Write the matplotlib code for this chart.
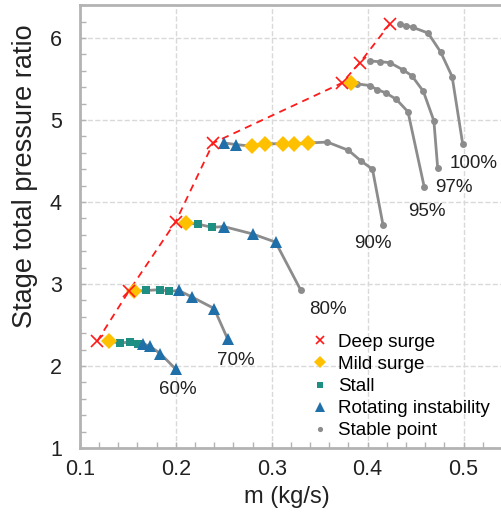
import matplotlib
matplotlib.use("Agg")
import matplotlib.pyplot as plt
from matplotlib.ticker import MultipleLocator
import numpy as np

plt.rcParams['font.family'] = ['Liberation Sans', 'DejaVu Sans']

# state codes: D deep surge, M mild surge, S stall, R rotating instability, P stable point
m_60 = [0.118, 0.130, 0.142, 0.152, 0.161, 0.166, 0.173, 0.184, 0.200]
p_60 = [2.30, 2.30, 2.28, 2.29, 2.27, 2.27, 2.24, 2.15, 1.96]
s_60 = ['D', 'M', 'S', 'S', 'S', 'R', 'R', 'R', 'R']

m_70 = [0.151, 0.156, 0.169, 0.184, 0.193, 0.203, 0.217, 0.240, 0.254]
p_70 = [2.91, 2.91, 2.92, 2.93, 2.91, 2.92, 2.84, 2.70, 2.33]
s_70 = ['D', 'M', 'S', 'S', 'S', 'R', 'R', 'R', 'R']

m_80 = [0.200, 0.211, 0.223, 0.238, 0.250, 0.280, 0.304, 0.330]
p_80 = [3.76, 3.74, 3.73, 3.69, 3.70, 3.61, 3.51, 2.93]
s_80 = ['D', 'M', 'S', 'S', 'R', 'R', 'R', 'P']

m_90 = [0.239, 0.250, 0.263, 0.279, 0.293, 0.312, 0.323, 0.338,
        0.358, 0.380, 0.393, 0.405, 0.416]
p_90 = [4.72, 4.72, 4.70, 4.68, 4.71, 4.71, 4.71, 4.72,
        4.73, 4.63, 4.50, 4.40, 3.72]
s_90 = ['D', 'R', 'R', 'M', 'M', 'M', 'M', 'M', 'P', 'P', 'P', 'P', 'P']

m_95 = [0.373, 0.383, 0.389, 0.402, 0.410, 0.419, 0.430, 0.442, 0.459]
p_95 = [5.45, 5.45, 5.44, 5.42, 5.37, 5.33, 5.25, 5.10, 4.18]
s_95 = ['D', 'M', 'P', 'P', 'P', 'P', 'P', 'P', 'P']

m_97 = [0.392, 0.402, 0.413, 0.423, 0.437, 0.446, 0.458, 0.469, 0.473]
p_97 = [5.70, 5.72, 5.71, 5.70, 5.61, 5.54, 5.35, 4.99, 4.41]
s_97 = ['D', 'P', 'P', 'P', 'P', 'P', 'P', 'P', 'P']

m_100 = [0.423, 0.434, 0.440, 0.447, 0.463, 0.476, 0.488, 0.499]
p_100 = [6.17, 6.17, 6.15, 6.13, 6.06, 5.83, 5.53, 4.71]
s_100 = ['D', 'P', 'P', 'P', 'P', 'P', 'P', 'P']

speeds = ['60%', '70%', '80%', '90%', '95%', '97%', '100%']
label_m = [0.202, 0.263, 0.359, 0.405, 0.462, 0.490, 0.510]
label_p = [1.71, 2.06, 2.69, 3.49, 3.88, 4.18, 4.47]

lines = [(m_60, p_60, s_60), (m_70, p_70, s_70), (m_80, p_80, s_80),
         (m_90, p_90, s_90), (m_95, p_95, s_95), (m_97, p_97, s_97),
         (m_100, p_100, s_100)]

estilos = {
    'D': dict(marker='x', color='#ff1a1a', ms=8.5, mew=1.2, label='Deep surge'),
    'M': dict(marker='D', color='#ffc000', ms=8, mew=0, label='Mild surge'),
    'S': dict(marker='s', color='#1f8f84', ms=6, mew=0, label='Stall'),
    'R': dict(marker='^', color='#1f6fa8', ms=9, mew=0, label='Rotating instability'),
    'P': dict(marker='o', color='#8c8c8c', ms=5, mew=0, label='Stable point'),
}

fig = plt.figure(figsize=(5.02, 5.19), dpi=100)
ax = fig.add_axes([0.159, 0.137, 0.841, 0.853])

gris = '#8c8c8c'

# linea de surge profundo
surge_m = [l[0][0] for l in lines]
surge_p = [l[1][0] for l in lines]
ax.plot(surge_m, surge_p, '--', color='#ff1a1a', lw=1.3, dashes=(4, 3), zorder=2)

for m, p, s in lines:
    m = np.array(m)
    p = np.array(p)
    s = np.array(s)
    ax.plot(m[1:], p[1:], '-', color=gris, lw=2, zorder=1)
    for k in ['P', 'S', 'R', 'M', 'D']:
        sel = s == k
        if sel.any():
            st = estilos[k]
            ax.plot(m[sel], p[sel], linestyle='none', marker=st['marker'],
                    color=st['color'], ms=st['ms'], mew=st['mew'], zorder=3)

for txt, x, y in zip(speeds, label_m, label_p):
    ax.text(x, y, txt, fontsize=13.5, ha='center', va='center', color='#222222')

# leyenda
for k in ['D', 'M', 'S', 'R', 'P']:
    st = estilos[k]
    ax.plot([], [], linestyle='none', marker=st['marker'], color=st['color'],
            ms=st['ms'] * 0.75, mew=st['mew'], label=st['label'])
ax.legend(loc='upper left', bbox_to_anchor=(0.546, 0.258), frameon=False,
          fontsize=13.6, handlelength=1.0, handletextpad=0.46, labelspacing=0.26,
          borderpad=0, borderaxespad=0)

ax.set_xlim(0.1, 0.54)
ax.set_ylim(1, 6.4)
ax.xaxis.set_major_locator(MultipleLocator(0.1))
ax.xaxis.set_minor_locator(MultipleLocator(0.02))
ax.yaxis.set_major_locator(MultipleLocator(1))
ax.yaxis.set_minor_locator(MultipleLocator(0.2))
ax.set_xticks([0.1, 0.2, 0.3, 0.4, 0.5])
ax.set_xticklabels(['0.1', '0.2', '0.3', '0.4', '0.5'])

ax.grid(True, which='major', linestyle='--', color='#d9d9d9', lw=1)
ax.set_axisbelow(True)

for lado in ['left', 'bottom', 'top']:
    ax.spines[lado].set_color('#b3b3b3')
    ax.spines[lado].set_linewidth(2)
ax.spines['right'].set_visible(False)

ax.tick_params(which='both', direction='in', color='#b3b3b3', labelsize=15.5,
               labelcolor='#222222', top=False, right=False)
ax.tick_params(which='major', length=4, width=1)
ax.tick_params(which='minor', length=4, width=1)
ax.tick_params(axis='x', which='major', pad=8)
ax.tick_params(axis='y', which='major', pad=13)

ax.set_xlabel('m (kg/s)', fontsize=17, color='#222222', labelpad=3)
ax.set_ylabel('Stage total pressure ratio', fontsize=19.5, color='#222222')
ax.yaxis.set_label_coords(-0.1, 0.614)
ax.xaxis.set_label_coords(0.49, -0.085)

plt.savefig('out.png', dpi=100)
plt.close()
